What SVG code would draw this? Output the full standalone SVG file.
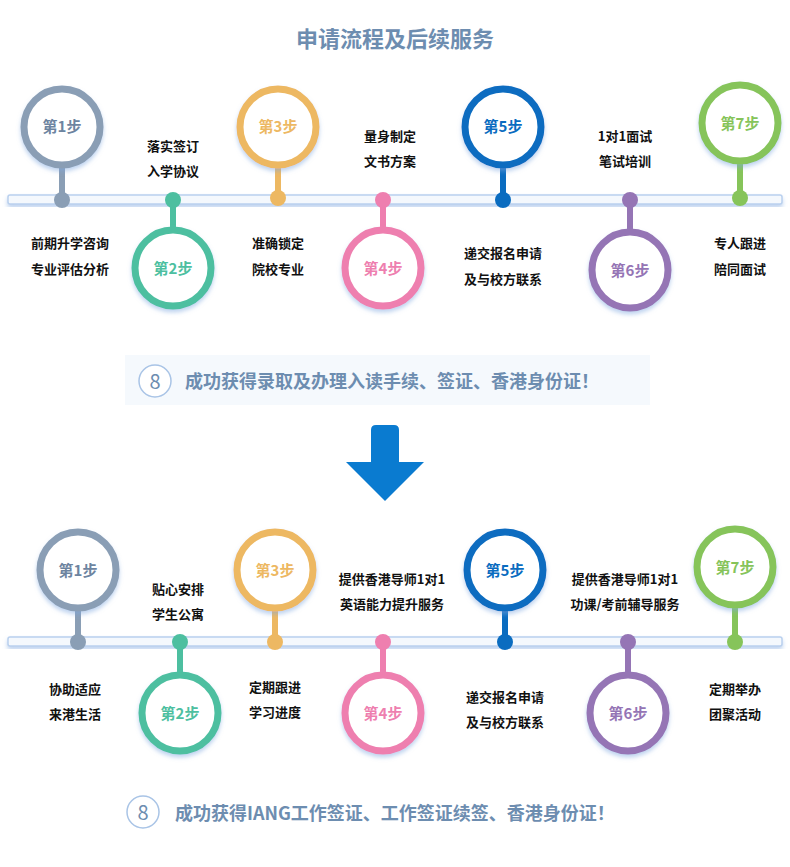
<svg xmlns="http://www.w3.org/2000/svg" width="790" height="867" viewBox="0 0 790 867">
<style>
text{font-family:"Noto Sans CJK SC","Liberation Sans",sans-serif;font-weight:bold}
.t{font-size:13px;fill:#111;text-anchor:middle}
.s{font-size:15px;text-anchor:middle}
.ring{fill:#fff;stroke-width:7}
.line{fill:#f4f8fd;stroke:#b9d0ee;stroke-width:1.5}
.b{fill:#fff;stroke:#a9c4e6;stroke-width:1.5}
.bt{font-size:18px;fill:#6d8db0}
</style>
<defs><filter id="sh" x="-20%" y="-20%" width="140%" height="150%"><feDropShadow dx="0" dy="3" stdDeviation="2" flood-color="#7fa8e0" flood-opacity="0.5"/></filter></defs>
<rect width="790" height="867" fill="#fff"/>
<text x="395" y="47" font-size="22" fill="#6d8db0" text-anchor="middle">申请流程及后续服务</text>
<g id="connectors">
<rect class="line" x="8" y="195" width="774" height="9" rx="2" filter="url(#sh)"/>
<rect class="line" x="8" y="637" width="774" height="9" rx="2" filter="url(#sh)"/>
</g>
<g id="top">
<g id="t1"><line x1="62" y1="160" x2="62" y2="200" stroke="#8a9eb5" stroke-width="6"/><circle cx="62" cy="200" r="8" fill="#8a9eb5"/><circle class="ring" cx="62" cy="127" r="38" stroke="#8a9eb5" filter="url(#sh)"/><text class="s" x="62" y="132" fill="#6d84a0">第1步</text></g>
<g id="t2"><line x1="173" y1="200" x2="173" y2="235" stroke="#4dbfa0" stroke-width="6"/><circle cx="173" cy="200" r="8" fill="#4dbfa0"/><circle class="ring" cx="173" cy="268" r="38" stroke="#4dbfa0" filter="url(#sh)"/><text class="s" x="173" y="274" fill="#4dbfa0">第2步</text></g>
<g id="t3"><line x1="278" y1="160" x2="278" y2="198" stroke="#edb862" stroke-width="6"/><circle cx="278" cy="198" r="8" fill="#edb862"/><circle class="ring" cx="278" cy="127" r="38" stroke="#edb862" filter="url(#sh)"/><text class="s" x="278" y="132" fill="#edb862">第3步</text></g>
<g id="t4"><line x1="383" y1="200" x2="383" y2="235" stroke="#ee7faf" stroke-width="6"/><circle cx="383" cy="200" r="8" fill="#ee7faf"/><circle class="ring" cx="383" cy="268" r="38" stroke="#ee7faf" filter="url(#sh)"/><text class="s" x="383" y="274" fill="#ee7faf">第4步</text></g>
<g id="t5"><line x1="503" y1="160" x2="503" y2="200" stroke="#0a6cc0" stroke-width="6"/><circle cx="503" cy="200" r="8" fill="#0a6cc0"/><circle class="ring" cx="503" cy="127" r="38" stroke="#0a6cc0" filter="url(#sh)"/><text class="s" x="503" y="132" fill="#0a6cc0">第5步</text></g>
<g id="t6"><line x1="630" y1="200" x2="630" y2="235" stroke="#9575b5" stroke-width="6"/><circle cx="630" cy="200" r="8" fill="#9575b5"/><circle class="ring" cx="630" cy="270" r="38" stroke="#9575b5" filter="url(#sh)"/><text class="s" x="630" y="276" fill="#9575b5">第6步</text></g>
<g id="t7"><line x1="740" y1="158" x2="740" y2="198" stroke="#86c45a" stroke-width="6"/><circle cx="740" cy="198" r="8" fill="#86c45a"/><circle class="ring" cx="740" cy="123" r="38" stroke="#86c45a" filter="url(#sh)"/><text class="s" x="740" y="129" fill="#86c45a">第7步</text></g>
<text class="t" x="173" y="151">落实签订</text><text class="t" x="173" y="176">入学协议</text>
<text class="t" x="70" y="248">前期升学咨询</text><text class="t" x="70" y="274">专业评估分析</text>
<text class="t" x="278" y="248">准确锁定</text><text class="t" x="278" y="274">院校专业</text>
<text class="t" x="390" y="141">量身制定</text><text class="t" x="390" y="166">文书方案</text>
<text class="t" x="503" y="258">递交报名申请</text><text class="t" x="503" y="284">及与校方联系</text>
<text class="t" x="625" y="141">1对1面试</text><text class="t" x="625" y="166">笔试培训</text>
<text class="t" x="740" y="248">专人跟进</text><text class="t" x="740" y="274">陪同面试</text>
</g>
<g id="res1"><rect x="125" y="355" width="525" height="50" fill="#f5f9fd"/><circle class="b" cx="155" cy="381" r="16"/><text x="155" y="389" font-size="20" font-weight="normal" fill="#6d8db0" text-anchor="middle" style="font-weight:normal">8</text><text class="bt" x="185" y="388">成功获得录取及办理入读手续、签证、香港身份证！</text></g>
<g id="arrow"><path d="M371 430 Q371 425 376 425 H394 Q399 425 399 430 V462 H424 L385 501 L346 462 H371 Z" fill="#0a7bd0"/></g>
<g id="bottom">
<g id="b1"><line x1="78" y1="603" x2="78" y2="642" stroke="#8a9eb5" stroke-width="6"/><circle cx="78" cy="642" r="8" fill="#8a9eb5"/><circle class="ring" cx="78" cy="570" r="38" stroke="#8a9eb5" filter="url(#sh)"/><text class="s" x="78" y="576" fill="#6d84a0">第1步</text></g>
<g id="b2"><line x1="180" y1="642" x2="180" y2="680" stroke="#4dbfa0" stroke-width="6"/><circle cx="180" cy="642" r="8" fill="#4dbfa0"/><circle class="ring" cx="180" cy="713" r="38" stroke="#4dbfa0" filter="url(#sh)"/><text class="s" x="180" y="719" fill="#4dbfa0">第2步</text></g>
<g id="b3"><line x1="275" y1="603" x2="275" y2="642" stroke="#edb862" stroke-width="6"/><circle cx="275" cy="642" r="8" fill="#edb862"/><circle class="ring" cx="275" cy="570" r="38" stroke="#edb862" filter="url(#sh)"/><text class="s" x="275" y="576" fill="#edb862">第3步</text></g>
<g id="b4"><line x1="383" y1="642" x2="383" y2="680" stroke="#ee7faf" stroke-width="6"/><circle cx="383" cy="642" r="8" fill="#ee7faf"/><circle class="ring" cx="383" cy="713" r="38" stroke="#ee7faf" filter="url(#sh)"/><text class="s" x="383" y="719" fill="#ee7faf">第4步</text></g>
<g id="b5"><line x1="505" y1="603" x2="505" y2="642" stroke="#0a6cc0" stroke-width="6"/><circle cx="505" cy="642" r="8" fill="#0a6cc0"/><circle class="ring" cx="505" cy="570" r="38" stroke="#0a6cc0" filter="url(#sh)"/><text class="s" x="505" y="576" fill="#0a6cc0">第5步</text></g>
<g id="b6"><line x1="628" y1="642" x2="628" y2="680" stroke="#9575b5" stroke-width="6"/><circle cx="628" cy="642" r="8" fill="#9575b5"/><circle class="ring" cx="628" cy="713" r="38" stroke="#9575b5" filter="url(#sh)"/><text class="s" x="628" y="719" fill="#9575b5">第6步</text></g>
<g id="b7"><line x1="735" y1="600" x2="735" y2="642" stroke="#86c45a" stroke-width="6"/><circle cx="735" cy="642" r="8" fill="#86c45a"/><circle class="ring" cx="735" cy="567" r="38" stroke="#86c45a" filter="url(#sh)"/><text class="s" x="735" y="573" fill="#86c45a">第7步</text></g>
<text class="t" x="178" y="594">贴心安排</text><text class="t" x="178" y="619">学生公寓</text>
<text class="t" x="75" y="694">协助适应</text><text class="t" x="75" y="719">来港生活</text>
<text class="t" x="275" y="692">定期跟进</text><text class="t" x="275" y="717">学习进度</text>
<text class="t" x="392" y="584">提供香港导师1对1</text><text class="t" x="392" y="609">英语能力提升服务</text>
<text class="t" x="505" y="702">递交报名申请</text><text class="t" x="505" y="727">及与校方联系</text>
<text class="t" x="625" y="584">提供香港导师1对1</text><text class="t" x="625" y="609">功课/考前辅导服务</text>
<text class="t" x="735" y="694">定期举办</text><text class="t" x="735" y="719">团聚活动</text>
</g>
<g id="res2"><circle class="b" cx="143" cy="812" r="16"/><text x="143" y="820" font-size="20" fill="#6d8db0" text-anchor="middle" style="font-weight:normal">8</text><text class="bt" x="175" y="820">成功获得IANG工作签证、工作签证续签、香港身份证！</text></g>
</svg>
